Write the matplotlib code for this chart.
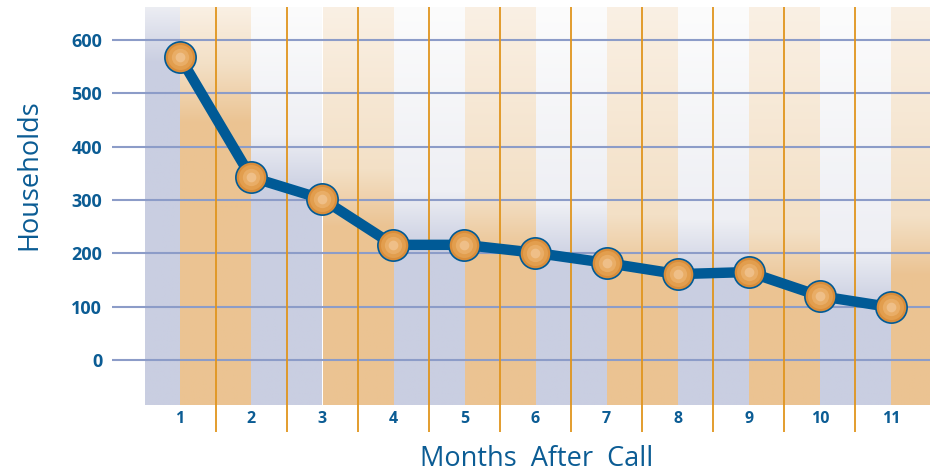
import numpy as np
import matplotlib.pyplot as plt
from matplotlib.colors import to_rgb

# data
months = [1, 2, 3, 4, 5, 6, 7, 8, 9, 10, 11]
households = [568, 343, 302, 216, 216, 201, 182, 161, 165, 120, 99]
y_ticks = [0, 100, 200, 300, 400, 500, 600]

# colours
BLUE_TXT = '#0b5c94'
LINE_C = '#005a96'
ORANGE = '#ebc392'
LAVENDER = '#c9cee1'
ORANGE_MID = '#f3e0c6'
LAVENDER_MID = '#eeeff4'
ORANGE_TOP = '#faf0e4'
LAVENDER_TOP = '#fcfcfc'
GRID_C = '#8c9cc8'
VLINE_C = '#e0951e'

plt.rcParams['font.family'] = ['Open Sans', 'DejaVu Sans']

fig = plt.figure(figsize=(9.32, 4.72), dpi=100)
ax = fig.add_axes([112 / 932, 40 / 472, 818 / 932, 425 / 472])

band_bottom, band_top = -84, 662
yy = np.linspace(band_bottom, band_top, 400)


def band_image(level, solid, mid, top, fade=110):
    s, m, t = (np.array(to_rgb(c)) for c in (solid, mid, top))
    img = np.zeros((len(yy), 1, 3))
    for i, y in enumerate(yy):
        if y <= level:
            c = s
        elif y <= level + fade:
            f = (y - level) / fade
            c = s + (m - s) * f
        else:
            f = min(1, (y - level - fade) / max(1, band_top - level - fade))
            c = m + (t - m) * f
        img[i, 0] = c
    return img


# band edges: half band before first point, bands between points, half band after last
edges = [0.5] + months + [11.55]
for k in range(len(edges) - 1):
    x0, x1 = edges[k], edges[k + 1]
    if k == 0:
        level = households[0] - 10
    elif k == len(edges) - 2:
        level = households[-1] + 60
    else:
        level = (households[k - 1] + households[k]) / 2 - 10
    if k % 2 == 0:
        cols = (LAVENDER, LAVENDER_MID, LAVENDER_TOP)
    else:
        cols = (ORANGE, ORANGE_MID, ORANGE_TOP)
    ax.imshow(band_image(level, *cols), extent=[x0 + 0.006, x1 - 0.006, band_bottom, band_top],
              origin='lower', aspect='auto', interpolation='bilinear', zorder=0)

for y in y_ticks:
    ax.axhline(y, color=GRID_C, lw=1.5, zorder=1)
for m in months[:-1]:
    ax.axvline(m + 0.5, color=VLINE_C, lw=1.3, zorder=1)

ax.plot(months, households, color=LINE_C, lw=7.5, solid_capstyle='round', zorder=3)
# shaded balls
ax.plot(months, households, 'o', ms=22.5, mfc='#d98d3a', mec=LINE_C, mew=1.2, zorder=4)
ax.plot(months, households, 'o', ms=18, mfc='#e29e4e', mec='none', zorder=5)
ax.plot(months, households, 'o', ms=12.5, mfc='#e9ad66', mec='none', zorder=6)
ax.plot(months, households, 'o', ms=7, mfc='#efbf88', mec='none', zorder=7)

for m in months:
    ax.text(m, -111, str(m), ha='center', va='center', color=BLUE_TXT,
            fontsize=11.5, fontweight='bold', zorder=6)

ax.set_xlim(0.044, 11.55)
ax.set_ylim(-135, 662)
ax.set_yticks(y_ticks)
ax.set_yticklabels([str(v) for v in y_ticks], color=BLUE_TXT, fontsize=13, fontweight='bold')
ax.set_xticks([])
ax.tick_params(axis='y', length=0, pad=7)
for sp in ax.spines.values():
    sp.set_visible(False)

fig.text(0.031, 0.629, 'Households', rotation=90, ha='center', va='center',
         color=BLUE_TXT, fontsize=19.5)
fig.text(0.576, 0.028, 'Months  After  Call', ha='center', va='center',
         color=BLUE_TXT, fontsize=19.5)

fig.savefig('out.png', dpi=100)
